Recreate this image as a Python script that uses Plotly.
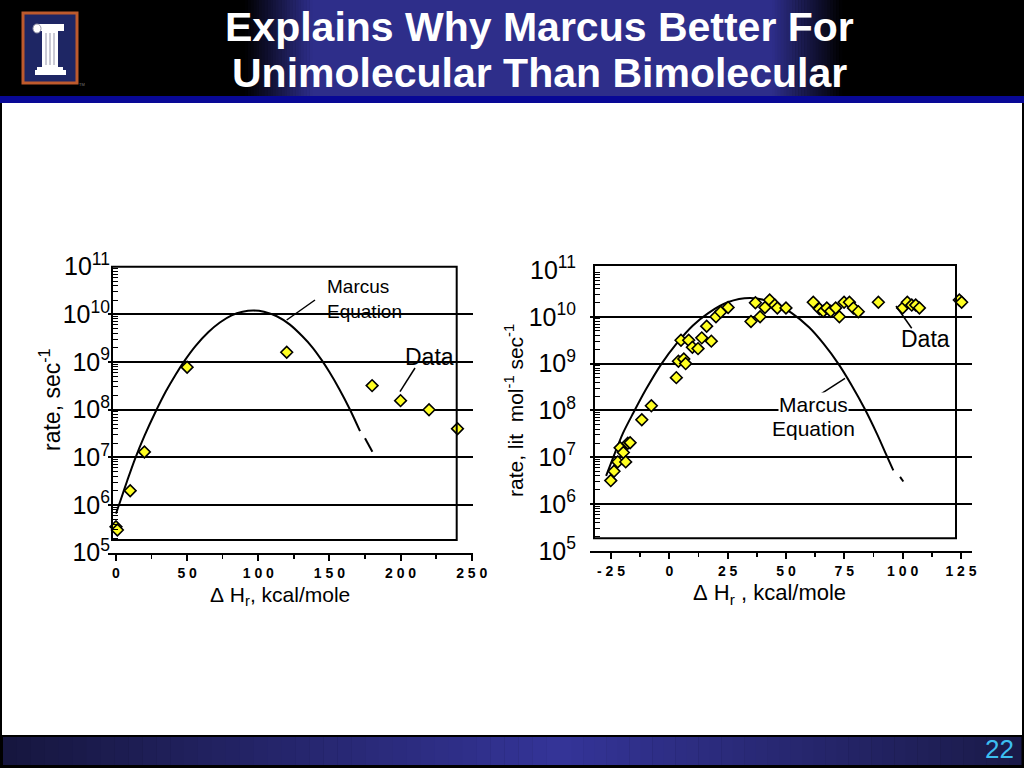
import plotly.graph_objects as go

W, H = 1024, 768


def px(x):
    return x / W


def py(y):
    return 1 - y / H


NB = "\u00a0"

# ---------------- data: left chart (unimolecular) ----------------
left_dh = [0, 1, 10, 20, 50, 120, 180, 200, 220, 240]
left_rate = [3.5e5, 3.0e5, 2.0e6, 1.3e7, 7.8e8, 1.6e9, 3.2e8, 1.55e8, 1.0e8, 4.0e7]
left_curve_dh = [0, 3, 8, 13.4, 20, 27.4, 35, 42, 48.5, 56, 65, 73, 81.3, 89, 96.5,
                 104, 113, 122, 131, 138, 144.6, 150, 157, 164.5, 171.5]
left_curve_exp = [5.82, 6.08, 6.52, 6.97, 7.45, 7.93, 8.38, 8.74, 9.04, 9.34, 9.63, 9.83,
                  9.98, 10.055, 10.08, 10.055, 9.96, 9.79, 9.54, 9.31, 9.04, 8.79, 8.43,
                  8.0, 7.55]
left_tail_dh = [175, 180.2]
left_tail_exp = [7.40, 7.12]
left_xticks = [0, 50, 100, 150, 200, 250]

# ---------------- data: right chart (bimolecular) ----------------
right_dh = [-25.1, -23.7, -22.1, -21.1, -19.7, -18.7, -17.8, -16.8, -11.8, -7.7,
            3.0, 3.9, 6.2, 7.0, 5.0, 8.3, 9.9, 12.3, 13.9, 18.0, 16.0, 20.0, 22.0, 25.2,
            35.0, 36.9, 38.9, 41.0, 43.0, 45.2, 46.3, 50.0, 61.7, 64.3, 66.0, 67.5,
            69.2, 71.3, 72.9, 74.9, 77.2, 78.9, 81.0, 89.6, 100.0, 102.0, 103.9, 105.6,
            107.2, 124.3, 125.3]
right_exp = [6.50, 6.70, 6.90, 7.20, 7.10, 6.90, 7.30, 7.31, 7.80, 8.10,
             8.70, 9.05, 9.10, 9.00, 9.50, 9.50, 9.35, 9.32, 9.55, 9.48, 9.80, 10.0, 10.1,
             10.2, 9.90, 10.3, 10.0, 10.2, 10.36, 10.25, 10.19, 10.19, 10.31, 10.17,
             10.12, 10.19, 10.12, 10.19, 10.0, 10.31, 10.31, 10.19, 10.11, 10.31, 10.19,
             10.31, 10.25, 10.25, 10.19, 10.36, 10.31]
right_curve_dh = [-27.1, -24, -20, -15.4, -10, -3.3, 3, 10, 16.7, 25, 34.6, 44, 52.5,
                  60, 66, 72.4, 78, 83.9, 89, 93.2, 96.0]
right_curve_exp = [6.6, 7.0, 7.5, 7.95, 8.45, 9.0, 9.42, 9.81, 10.08, 10.31, 10.40,
                   10.31, 10.08, 9.77, 9.43, 9.0, 8.55, 8.02, 7.50, 7.03, 6.72]
right_tail_dh = [98.9, 100.3]
right_tail_exp = [6.58, 6.48]
right_xticks = [-25, 0, 25, 50, 75, 100, 125]


def spaced(v):
    s = str(v)
    if s.startswith("-"):
        return "-" + NB + NB.join(s[1:])
    return NB.join(s)


def pw(vals):
    return [10 ** v for v in vals]


FONT = "Liberation Sans"
fig = go.Figure()

marker = dict(symbol="diamond", size=9, color="#ffff22",
              line=dict(color="black", width=1.6))
curve_line = dict(color="black", width=2, shape="spline", smoothing=0.8)

# left
fig.add_trace(go.Scatter(x=left_curve_dh, y=pw(left_curve_exp), mode="lines",
                         line=curve_line, xaxis="x", yaxis="y"))
fig.add_trace(go.Scatter(x=left_tail_dh, y=pw(left_tail_exp), mode="lines",
                         line=dict(color="black", width=2), xaxis="x", yaxis="y"))
fig.add_trace(go.Scatter(x=left_dh, y=left_rate, mode="markers", marker=marker,
                         xaxis="x", yaxis="y"))
# right
fig.add_trace(go.Scatter(x=right_curve_dh, y=pw(right_curve_exp), mode="lines",
                         line=curve_line, xaxis="x2", yaxis="y2"))
fig.add_trace(go.Scatter(x=right_tail_dh, y=pw(right_tail_exp), mode="lines",
                         line=dict(color="black", width=2), xaxis="x2", yaxis="y2"))
fig.add_trace(go.Scatter(x=right_dh, y=pw(right_exp), mode="markers", marker=marker,
                         xaxis="x2", yaxis="y2"))


def xaxis_cfg(dom, rng, ticks, minor_dtick):
    return dict(domain=dom, range=rng, tickmode="array", tickvals=ticks,
                ticktext=[spaced(t) for t in ticks], ticks="outside", ticklen=6,
                tickwidth=2, tickcolor="black", showline=True, linecolor="black",
                linewidth=2, showgrid=False, zeroline=False, automargin=False,
                tickfont=dict(family=FONT, size=14, color="black", weight="bold"),
                minor=dict(dtick=minor_dtick, tick0=0, ticks="outside", ticklen=4,
                           tickwidth=1.5, tickcolor="black", showgrid=False),
                fixedrange=True)


def yaxis_cfg(dom, pos, standoff):
    return dict(domain=dom, type="log", range=[5, 11], dtick=1, tick0=0,
                exponentformat="power", showexponent="all", anchor="free",
                position=pos, side="left", ticks="inside", ticklen=9, tickwidth=2,
                tickcolor="black", showline=False, showgrid=True, gridcolor="black",
                gridwidth=2, zeroline=False, automargin=False,
                ticklabelstandoff=standoff,
                tickfont=dict(family=FONT, size=20, color="black"),
                minor=dict(dtick="D1", ticks="inside", ticklen=5, tickwidth=1,
                           tickcolor="black", showgrid=False),
                fixedrange=True)


layout = dict(
    width=W, height=H, autosize=False,
    margin=dict(l=0, r=0, t=0, b=0, pad=0, autoexpand=False),
    paper_bgcolor="white", plot_bgcolor="rgba(0,0,0,0)", showlegend=False,
    xaxis=xaxis_cfg([px(108.3), px(472.7)], [-5.4, 250.7], left_xticks, 25),
    yaxis=yaxis_cfg([py(552.7), py(266.7)], px(112), 2),
    xaxis2=dict(xaxis_cfg([px(590), px(971.7)], [-34, 129.6], right_xticks, 12.5),
                anchor="y2"),
    yaxis2=yaxis_cfg([py(550.8), py(270)], px(594), 18),
)
fig.update_layout(**layout)

shapes = []
# header background
shapes.append(dict(type="rect", xref="paper", yref="paper", x0=0, x1=1, y0=py(96),
                   y1=1, fillcolor="black", line_width=0, layer="below"))


def lerp(c1, c2, t):
    return "rgb(%d,%d,%d)" % tuple(round(a + (b - a) * t) for a, b in zip(c1, c2))


panel = (46, 46, 138)
edge = (0, 0, 0)
N = 24
x_a, x_b, x_c, x_d = 245, 312, 772, 842
shapes.append(dict(type="rect", xref="paper", yref="paper", x0=px(x_b - 1), x1=px(x_c + 1),
                   y0=py(96), y1=1, fillcolor="rgb(%d,%d,%d)" % panel, line_width=0,
                   layer="below"))
for i in range(N):
    t = (i + 0.5) / N
    shapes.append(dict(type="rect", xref="paper", yref="paper",
                       x0=px(x_a + (x_b - x_a) * i / N), x1=px(x_a + (x_b - x_a) * (i + 1) / N + 0.5),
                       y0=py(96), y1=1, fillcolor=lerp(edge, panel, t), line_width=0,
                       layer="below"))
    shapes.append(dict(type="rect", xref="paper", yref="paper",
                       x0=px(x_c + (x_d - x_c) * i / N), x1=px(x_c + (x_d - x_c) * (i + 1) / N + 0.5),
                       y0=py(96), y1=1, fillcolor=lerp(panel, edge, t), line_width=0,
                       layer="below"))
# blue band under header
shapes.append(dict(type="rect", xref="paper", yref="paper", x0=0, x1=1, y0=py(103),
                   y1=py(96), fillcolor="rgb(8,8,150)", line_width=0, layer="below"))
# side frame lines
for xa, xb in [(0, 2), (1022, 1024)]:
    shapes.append(dict(type="rect", xref="paper", yref="paper", x0=px(xa), x1=px(xb),
                       y0=0, y1=py(103), fillcolor="black", line_width=0, layer="below"))
# footer
shapes.append(dict(type="rect", xref="paper", yref="paper", x0=0, x1=1, y0=0,
                   y1=py(735), fillcolor="black", line_width=0, layer="below"))
foot_l, foot_c, foot_r = (22, 22, 62), (52, 52, 152), (26, 26, 72)
M = 40
for i in range(M):
    t = (i + 0.5) / M
    xs0 = 3 + (560 - 3) * i / M
    xs1 = 3 + (560 - 3) * (i + 1) / M + 0.5
    shapes.append(dict(type="rect", xref="paper", yref="paper", x0=px(xs0), x1=px(xs1),
                       y0=py(765), y1=py(737), fillcolor=lerp(foot_l, foot_c, t),
                       line_width=0, layer="below"))
    xs0 = 560 + (1021 - 560) * i / M
    xs1 = 560 + (1021 - 560) * (i + 1) / M + 0.5
    shapes.append(dict(type="rect", xref="paper", yref="paper", x0=px(xs0), x1=px(xs1),
                       y0=py(765), y1=py(737), fillcolor=lerp(foot_c, foot_r, t),
                       line_width=0, layer="below"))

# logo
shapes.append(dict(type="rect", xref="paper", yref="paper", x0=px(23), x1=px(77),
                   y0=py(83), y1=py(13), fillcolor="rgb(30,38,100)",
                   line=dict(color="rgb(190,90,45)", width=3), layer="above"))
for (a, b, c, d) in [(36, 64, 24, 31), (42, 58, 31, 67), (37, 63, 67, 70), (35, 66, 70, 75)]:
    shapes.append(dict(type="rect", xref="paper", yref="paper", x0=px(a), x1=px(b),
                       y0=py(d), y1=py(c), fillcolor="white", line_width=0, layer="above"))
for gx in [46, 50, 54]:
    shapes.append(dict(type="line", xref="paper", yref="paper", x0=px(gx), x1=px(gx),
                       y0=py(65), y1=py(33), line=dict(color="rgb(150,150,170)", width=1),
                       layer="above"))
shapes.append(dict(type="circle", xref="paper", yref="paper", x0=px(33), x1=px(41),
                   y0=py(33), y1=py(24), fillcolor="white",
                   line=dict(color="rgb(150,150,170)", width=1), layer="above"))

# chart frames
shapes.append(dict(type="rect", xref="paper", yref="paper", x0=px(112), x1=px(456.7),
                   y0=py(540), y1=py(266.7), line=dict(color="black", width=2),
                   fillcolor="rgba(0,0,0,0)", layer="above"))
shapes.append(dict(type="rect", xref="paper", yref="paper", x0=px(594), x1=px(956),
                   y0=py(538.3), y1=py(265), line=dict(color="black", width=2),
                   fillcolor="rgba(0,0,0,0)", layer="above"))
# leader lines
for (a, b, c, d) in [(286.7, 320, 315, 300), (400, 391.7, 415, 368),
                     (896, 306, 911.7, 328.3), (816.7, 396.7, 845, 378.3)]:
    shapes.append(dict(type="line", xref="paper", yref="paper", x0=px(a), y0=py(b),
                       x1=px(c), y1=py(d), line=dict(color="black", width=1.5),
                       layer="above"))
fig.update_layout(shapes=shapes)

ann = []


def A(text, x, y, size, **kw):
    d = dict(text=text, x=px(x), y=py(y), xref="paper", yref="paper", showarrow=False,
             xanchor="center", yanchor="middle",
             font=dict(family=FONT, size=size, color=kw.pop("color", "black"),
                       weight=kw.pop("weight", "normal")))
    d.update(kw)
    ann.append(d)


A("Explains Why Marcus Better For", 539, 27, 41, color="white", weight="bold")
A("Unimolecular Than Bimolecular", 539, 73, 41, color="white", weight="bold")
A("22", 999, 749, 26, color="rgb(60,190,240)")
A("TM", 82, 84, 4, color="rgb(120,120,120)")

A("\u0394" + NB + "H<sub>r</sub>, kcal/mole", 280, 596, 21)
A("\u0394" + NB + "H<sub>r</sub>" + NB + ", kcal/mole", 769, 594, 22)
A("rate, sec<sup>-1</sup>", 50, 400, 23, textangle=-90)
A("rate, lit" + NB + NB + "mol<sup>-1</sup>" + NB + "sec<sup>-1</sup>", 514, 411, 21,
  textangle=-90)
A("Marcus<br>Equation", 325, 299, 19, xanchor="left", align="left")
A("Data", 403, 357, 23, xanchor="left")
A("Data", 899, 339, 23, xanchor="left")
A("Marcus", 813, 404, 21, bgcolor="white", borderpad=0)
A("Equation", 813, 428, 21)
fig.update_layout(annotations=ann)

fig.write_html("out.html", config={"displayModeBar": False, "staticPlot": True},
               post_script="document.body.style.margin='0';")
